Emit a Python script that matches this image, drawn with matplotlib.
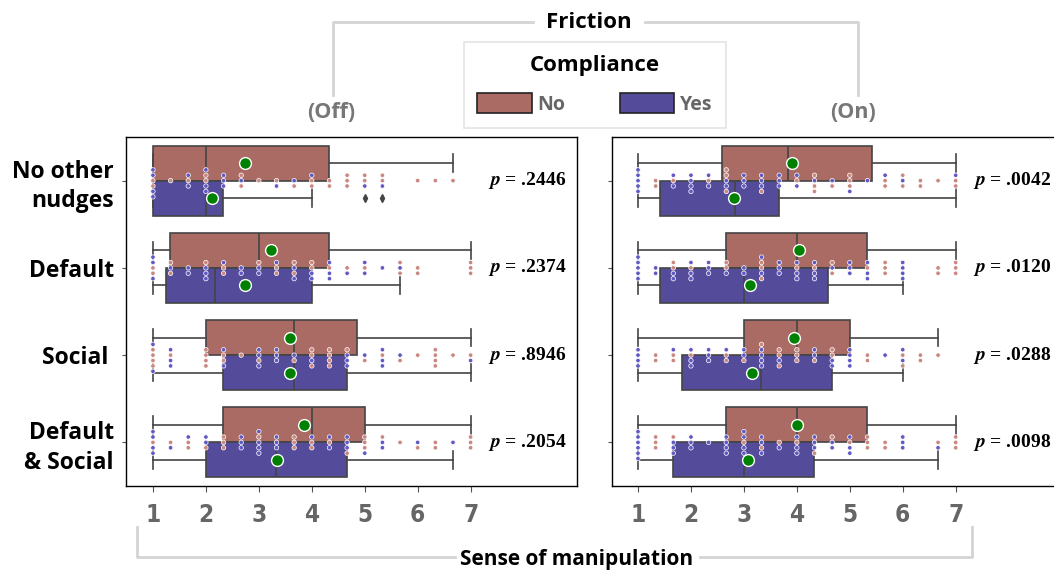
import matplotlib
matplotlib.use("Agg")
import matplotlib.pyplot as plt
from matplotlib.patches import Patch
from matplotlib.lines import Line2D
import pandas as pd
import seaborn as sns

# categories
groups = ["No other\nnudges", "Default", "Social ", "Default\n& Social"]
panels = ["(Off)", "(On)"]
hues = ["No", "Yes"]
xticks = [1, 2, 3, 4, 5, 6, 7]

# answer scale (mean of three 7-point items)
scale = [1, 4/3, 5/3, 2, 7/3, 8/3, 3, 10/3, 11/3, 4, 13/3, 14/3, 5, 16/3, 17/3, 6, 19/3, 20/3, 7]

# number of respondents at each scale point, per group
off_no = [
    [2, 1, 1, 2, 0, 2, 1, 1, 1, 2, 2, 3, 2, 2, 0, 1, 1, 1, 0],
    [2, 2, 0, 1, 2, 0, 1, 2, 2, 2, 1, 1, 1, 0, 2, 2, 0, 0, 3],
    [4, 1, 0, 4, 2, 1, 1, 0, 1, 3, 4, 1, 1, 1, 1, 1, 4, 1, 1],
    [1, 1, 2, 1, 3, 0, 1, 0, 3, 2, 1, 1, 3, 1, 1, 1, 2, 0, 3],
]
off_yes = [
    [4, 0, 2, 3, 3, 1, 0, 1, 1, 1, 0, 0, 1, 1, 0, 0, 0, 0, 0],
    [3, 1, 2, 3, 1, 2, 2, 1, 2, 2, 3, 1, 2, 1, 1, 0, 0, 0, 0],
    [2, 3, 0, 0, 2, 0, 3, 3, 1, 1, 0, 3, 1, 3, 1, 0, 0, 0, 1],
    [4, 1, 1, 2, 0, 3, 4, 3, 0, 1, 2, 3, 1, 2, 0, 1, 0, 1, 0],
]
on_no = [
    [0, 2, 1, 0, 1, 3, 0, 1, 0, 1, 3, 1, 3, 0, 2, 2, 2, 1, 2],
    [0, 0, 2, 1, 0, 2, 0, 3, 0, 1, 1, 2, 0, 1, 3, 0, 0, 2, 3],
    [0, 2, 2, 1, 0, 2, 1, 1, 3, 3, 1, 2, 0, 2, 0, 2, 2, 1, 0],
    [0, 3, 1, 0, 0, 0, 1, 1, 1, 1, 1, 1, 1, 3, 2, 0, 0, 1, 3],
]
on_yes = [
    [5, 0, 2, 4, 2, 2, 3, 3, 3, 2, 1, 1, 1, 1, 1, 1, 0, 0, 1],
    [5, 2, 2, 3, 3, 1, 2, 2, 3, 3, 3, 1, 3, 3, 0, 4, 0, 0, 0],
    [4, 0, 1, 3, 3, 1, 2, 4, 1, 0, 2, 2, 4, 0, 1, 2, 0, 0, 0],
    [6, 0, 3, 3, 1, 4, 4, 3, 1, 3, 3, 2, 3, 0, 0, 3, 0, 1, 0],
]

# box statistics: q1, median, q3, whisker low, whisker high, mean
off_no_box = [
    [1.00, 2.00, 4.33, 1, 6.67, 2.73],
    [1.33, 3.00, 4.33, 1, 7.00, 3.23],
    [2.00, 3.67, 4.85, 1, 7.00, 3.58],
    [2.33, 4.00, 5.00, 1, 7.00, 3.86],
]
off_yes_box = [
    [1.00, 2.00, 2.33, 1, 4.00, 2.12],
    [1.25, 2.17, 4.00, 1, 5.67, 2.73],
    [2.33, 3.67, 4.67, 1, 7.00, 3.58],
    [2.00, 3.33, 4.67, 1, 6.67, 3.35],
]
on_no_box = [
    [2.58, 3.83, 5.42, 1, 7.00, 3.90],
    [2.67, 4.00, 5.33, 1, 7.00, 4.04],
    [3.00, 4.00, 5.00, 1, 6.67, 3.95],
    [2.67, 4.00, 5.33, 1, 7.00, 4.00],
]
on_yes_box = [
    [1.42, 2.83, 3.67, 1, 7.00, 2.82],
    [1.42, 3.00, 4.58, 1, 6.00, 3.11],
    [1.83, 3.33, 4.67, 1, 6.00, 3.16],
    [1.67, 3.00, 4.33, 1, 6.67, 3.07],
]
off_yes_fliers = [[5.0, 16/3], [], [], []]
no_fliers = [[], [], [], []]

off_p = [".2446", ".2374", ".8946", ".2054"]
on_p = [".0042", ".0120", ".0288", ".0098"]

box_colors = {"No": "#a96b64", "Yes": "#544c9b"}
dot_colors = {"No": "#c98780", "Yes": "#6059c4"}
edge = "#444444"
bracket = "#d4d4d4"
sans = ["Open Sans", "DejaVu Sans"]

W, H = 1054, 574


def fp(x, y):
    # pixel position -> figure fraction
    return x / W, 1 - y / H


def long_form(no_counts, yes_counts):
    rows = []
    for g, name in enumerate(groups):
        for hue, counts in (("No", no_counts[g]), ("Yes", yes_counts[g])):
            for v, c in zip(scale, counts):
                rows += [(name, hue, v)] * c
    return pd.DataFrame(rows, columns=["group", "comp", "value"])


def draw_panel(ax, no_counts, yes_counts, no_box, yes_box, yes_fliers, pvals):
    for hue, boxes, fliers, off in (("No", no_box, no_fliers, -0.2),
                                    ("Yes", yes_box, yes_fliers, 0.2)):
        stats = []
        for g in range(len(groups)):
            q1, med, q3, lo, hi, mean = boxes[g]
            stats.append(dict(q1=q1, med=med, q3=q3, whislo=lo, whishi=hi,
                              mean=mean, fliers=fliers[g]))
        ax.bxp(stats, positions=[g + off for g in range(len(groups))],
               widths=0.4, orientation="horizontal", patch_artist=True,
               showmeans=True, manage_ticks=False,
               boxprops=dict(facecolor=box_colors[hue], edgecolor=edge, linewidth=1.2),
               whiskerprops=dict(color=edge, linewidth=1.2),
               capprops=dict(color=edge, linewidth=1.2),
               medianprops=dict(color=edge, linewidth=1.2),
               meanprops=dict(marker="o", markerfacecolor="green",
                              markeredgecolor="white", markersize=8.5, markeredgewidth=1),
               flierprops=dict(marker="d", markerfacecolor=edge, markeredgecolor=edge,
                               markersize=4))
    df = long_form(no_counts, yes_counts)
    sns.swarmplot(data=df, x="value", y="group", hue="comp", order=groups,
                  hue_order=hues, palette=dot_colors, dodge=False, size=3.2,
                  edgecolor="white", linewidth=0.5, orient="h", legend=False,
                  zorder=3, ax=ax)
    for col in ax.collections:
        col.set_zorder(3)
    for line in ax.lines:
        if line.get_marker() == "o":
            line.set_zorder(5)
    for g, p in enumerate(pvals):
        ax.text(7.33, g, r"$\mathbfit{p}$ = " + p, va="center", ha="left",
                fontsize=14, fontweight="bold", family="Liberation Serif")
    ax.set_xlim(0.5, 9.0)
    ax.set_ylim(3.5, -0.5)
    ax.set_xticks(xticks)
    ax.set_xticklabels([str(t) for t in xticks], family="DejaVu Sans",
                       fontstretch="condensed", fontweight="bold",
                       fontsize=17.5, color="#666666")
    ax.set_yticks(range(len(groups)))
    ax.set_xlabel("")
    ax.set_ylabel("")
    ax.tick_params(axis="x", length=4, color="#555555", pad=8)
    ax.tick_params(axis="y", length=3, color="#555555", pad=6)
    for s in ax.spines.values():
        s.set_color("black")
        s.set_linewidth(1)


plt.rcParams["mathtext.fontset"] = "stix"
fig = plt.figure(figsize=(W / 100, H / 100), dpi=100)
axL = fig.add_axes([0.120, 0.1533, 0.427, 0.608])
axR = fig.add_axes([0.5802, 0.1533, 0.427, 0.608])

draw_panel(axL, off_no, off_yes, off_no_box, off_yes_box, off_yes_fliers, off_p)
draw_panel(axR, on_no, on_yes, on_no_box, on_yes_box, no_fliers, on_p)

axL.set_yticklabels(groups, family=sans, fontweight="bold", fontsize=16.5,
                    ha="right", linespacing=1.3)
axR.set_yticklabels([])

# bracket on top (Friction)
for xs, ys in (([333, 333, 533], [95, 22, 22]), ([645, 858, 858], [22, 22, 95])):
    pts = [fp(x, y) for x, y in zip(xs, ys)]
    fig.add_artist(Line2D([p[0] for p in pts], [p[1] for p in pts],
                          transform=fig.transFigure, color=bracket, lw=2))
fig.text(*fp(589, 22), "Friction", ha="center", va="center", family=sans,
         fontweight="bold", fontsize=16)
fig.text(*fp(331, 113), panels[0], ha="center", va="center", family=sans,
         fontweight="bold", fontsize=15.5, color="#777777")
fig.text(*fp(853, 113), panels[1], ha="center", va="center", family=sans,
         fontweight="bold", fontsize=15.5, color="#777777")

# bracket at the bottom (x label)
for xs, ys in (([137, 137, 455], [527, 557, 557]), ([700, 972, 972], [557, 557, 527])):
    pts = [fp(x, y) for x, y in zip(xs, ys)]
    fig.add_artist(Line2D([p[0] for p in pts], [p[1] for p in pts],
                          transform=fig.transFigure, color=bracket, lw=2))
fig.text(*fp(577, 559), "Sense of manipulation", ha="center", va="center",
         family=sans, fontweight="bold", fontsize=15)

handles = [Patch(facecolor=box_colors[h], edgecolor="#222222", linewidth=1.2) for h in hues]
leg = fig.legend(handles, hues, title="Compliance", loc="center",
                 bbox_to_anchor=fp(595, 85), ncol=2, frameon=True, fancybox=False,
                 edgecolor="#dddddd", handlelength=2.8, handleheight=1.2,
                 columnspacing=2.8, handletextpad=0.3, borderpad=0.7,
                 prop=dict(family=sans, weight="bold", size=14),
                 title_fontproperties=dict(family=sans, weight="bold", size=16),
                 labelcolor="#666666")
leg.get_frame().set_linewidth(1.2)
leg._legend_box.sep = 12

fig.savefig("out.png", dpi=100)
